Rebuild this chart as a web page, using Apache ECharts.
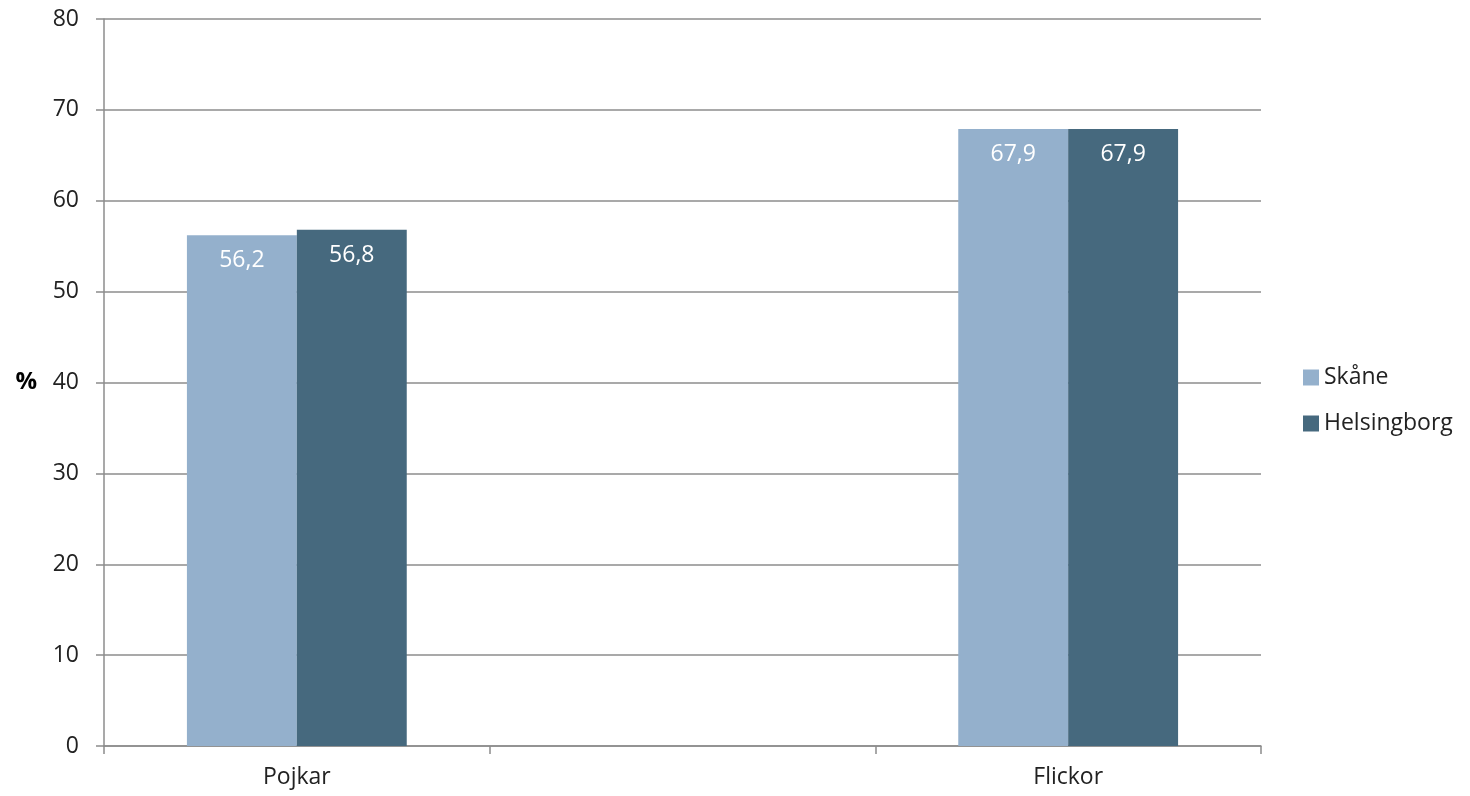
<!DOCTYPE html>
<html><head><meta charset="utf-8">
<script src="https://cdn.jsdelivr.net/npm/echarts@6/dist/echarts.min.js"></script>
<style>html,body{margin:0;padding:0;background:#fff}#c{width:1470px;height:796px}</style>
</head><body><div id="c"></div>
<script>
const categories = ["Pojkar", "", "Flickor"];
const skane = [56.2, null, 67.9];
const helsingborg = [56.8, null, 67.9];
const seriesNames = ["Skåne", "Helsingborg"];
const yTicks = {min: 0, max: 80, interval: 10};

const FONT = "'Open Sans', 'Liberation Sans', Arial, sans-serif";
const axisColor = '#8c8c8c';
const lbl = {
  show: true, position: 'insideTop', distance: 14, color: '#fff',
  fontSize: 23, fontFamily: FONT,
  formatter: p => p.value == null ? '' : String(p.value.toFixed(1)).replace('.', ',')
};
const chart = echarts.init(document.getElementById('c'));
chart.setOption({
  animation: false,
  grid: {left: 104, right: 209, top: 19, bottom: 50, containLabel: false},
  legend: {
    orient: 'vertical', left: 1303, top: 366, padding: 0, itemWidth: 16, itemHeight: 16, itemGap: 23,
    icon: 'rect', textStyle: {fontSize: 23, fontFamily: FONT, color: '#222'},
    data: seriesNames
  },
  xAxis: {
    type: 'category', data: categories,
    axisLine: {lineStyle: {color: axisColor, width: 1.5}},
    axisTick: {show: true, interval: 0, length: 8, lineStyle: {color: axisColor, width: 1.5}},
    axisLabel: {interval: 0, fontSize: 23, fontFamily: FONT, color: '#222', margin: 20}
  },
  yAxis: {
    type: 'value', min: yTicks.min, max: yTicks.max, interval: yTicks.interval,
    name: '%', nameLocation: 'middle', nameRotate: 0, nameGap: 67,
    nameTextStyle: {fontSize: 24, fontFamily: FONT, color: '#000', fontWeight: 'bold'},
    axisLine: {show: true, lineStyle: {color: axisColor, width: 1.5}},
    axisTick: {show: true, length: 8, lineStyle: {color: axisColor, width: 1.5}},
    axisLabel: {fontSize: 23, fontFamily: FONT, color: '#222', margin: 25},
    splitLine: {lineStyle: {color: axisColor, width: 1.5}}
  },
  series: [
    {name: seriesNames[0], type: 'bar', data: skane, barGap: '0%', barCategoryGap: '43%',
     itemStyle: {color: '#94b0cc'}, label: lbl},
    {name: seriesNames[1], type: 'bar', data: helsingborg, barGap: '0%', barCategoryGap: '43%',
     itemStyle: {color: '#46697e'}, label: lbl}
  ]
});
</script></body></html>
